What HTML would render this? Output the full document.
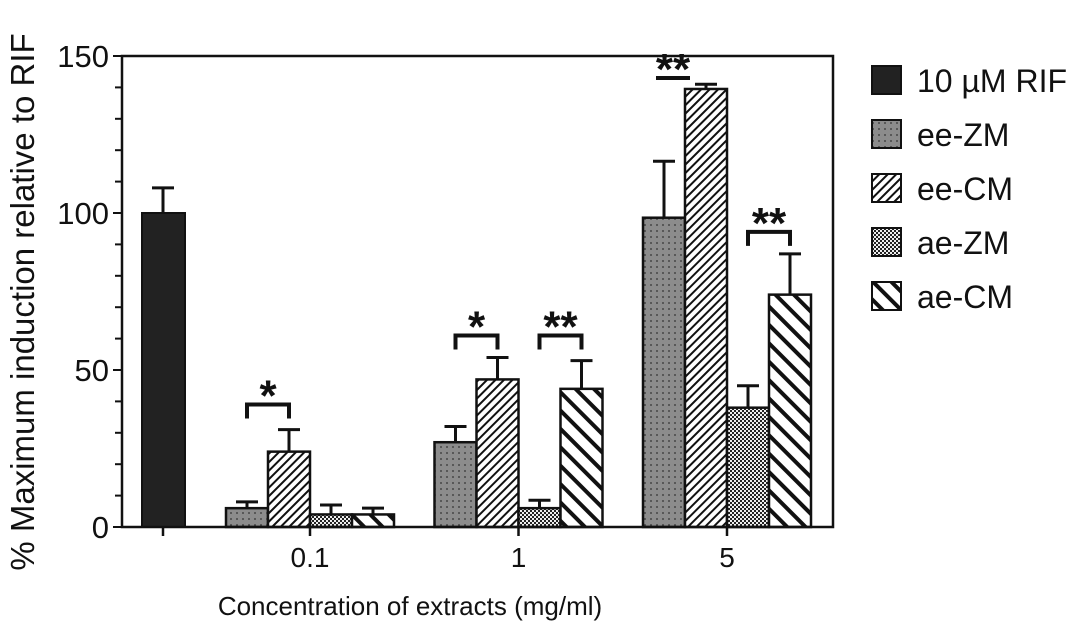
<!DOCTYPE html>
<html><head><meta charset="utf-8"><style>
body{margin:0;background:#fff;}
svg{display:block;font-family:"Liberation Sans",Arial,sans-serif;}
</style></head><body>
<svg id="chart" width="1087" height="643" viewBox="0 0 1087 643" xmlns="http://www.w3.org/2000/svg">
<defs>
<pattern id="pDots" width="6" height="6" patternUnits="userSpaceOnUse"><rect width="6" height="6" fill="#8c8c8c"/><circle cx="3" cy="3" r="0.9" fill="#333"/></pattern>
<pattern id="pFine" width="6" height="6" patternUnits="userSpaceOnUse" patternTransform="rotate(45)"><rect width="6" height="6" fill="#fff"/><rect width="2" height="6" fill="#111"/></pattern>
<pattern id="pCheck" width="4" height="4" patternUnits="userSpaceOnUse"><rect width="4" height="4" fill="#eee"/><rect width="2" height="2" fill="#222"/><rect x="2" y="2" width="2" height="2" fill="#222"/></pattern>
<pattern id="pWide" width="13" height="13" patternUnits="userSpaceOnUse" patternTransform="rotate(-45)"><rect width="13" height="13" fill="#fff"/><rect width="4" height="13" fill="#111"/></pattern>
</defs>
<g id="plot"></g>
<text transform="translate(34,302) rotate(-90)" text-anchor="middle" font-size="33" fill="#111">% Maximum induction relative to RIF</text>
<text x="410" y="615" text-anchor="middle" font-size="26" fill="#111">Concentration of extracts (mg/ml)</text>
</svg>
<script>
const groups = ["0.1", "1", "5"];
const seriesNames = ["ee-ZM", "ee-CM", "ae-ZM", "ae-CM"];
const rifValue = 100;
const rifErr = 108;
const eeZM = [6, 27, 98.5];
const eeCM = [24, 47, 139.5];
const aeZM = [4, 6, 38];
const aeCM = [4, 44, 74];
const eeZMErr = [8, 32, 116.5];
const eeCMErr = [31, 54, 141];
const aeZMErr = [7, 8.5, 45];
const aeCMErr = [6, 53, 87];
const yTicks = [0, 50, 100, 150];
const legendLabels = ["10 µM RIF", "ee-ZM", "ee-CM", "ae-ZM", "ae-CM"];
const sigGroup = [0, 1, 1, 2, 2];
const sigLeft = [0, 0, 2, 0, 2];
const sigSeriesR = [1, 1, 3, 1, 3];
const sigLabel = ["*", "*", "**", "**", "**"];
const sigY = [39, 61, 61, 143, 94];

const NS = "http://www.w3.org/2000/svg";
const g = document.getElementById('plot');
const X0 = 122, X1 = 833, Y0 = 527, Y1 = 56;
const yScale = v => Y0 - (v / 150) * (Y0 - Y1);
const rifCenter = 163;
const groupCenter = i => 310 + i * 208.5;
const BW = 42;
const barLeft = (gi, si) => groupCenter(gi) - 2 * BW + si * BW;
function el(tag, attrs) { const e = document.createElementNS(NS, tag); for (const k in attrs) e.setAttribute(k, attrs[k]); g.appendChild(e); return e; }

const fills = ["url(#pDots)", "url(#pFine)", "url(#pCheck)", "url(#pWide)"];
const vals = [eeZM, eeCM, aeZM, aeCM];
const errs = [eeZMErr, eeCMErr, aeZMErr, aeCMErr];

function errBar(cx, v, e) {
  const l = el('line', {x1: cx, x2: cx, y1: yScale(v), y2: yScale(e), stroke: '#111', 'stroke-width': 3});
  
  
  const c = el('line', {x1: cx - 11, x2: cx + 11, y1: yScale(e), y2: yScale(e), stroke: '#111', 'stroke-width': 3});
  
  
}

const rb = el('rect', {x: rifCenter - 21, y: yScale(rifValue), width: 43, height: Y0 - yScale(rifValue), fill: '#222', stroke: '#111', 'stroke-width': 2});


errBar(rifCenter, rifValue, rifErr);

for (let gi = 0; gi < groups.length; gi++) {
  for (let si = 0; si < 4; si++) {
    const x = barLeft(gi, si), v = vals[si][gi];
    const r = el('rect', {x: x, y: yScale(v), width: BW, height: Y0 - yScale(v), fill: fills[si], stroke: '#111', 'stroke-width': 2.5});
    
    
    errBar(x + BW / 2, v, errs[si][gi]);
  }
  const t = el('line', {x1: groupCenter(gi), x2: groupCenter(gi), y1: Y0, y2: Y0 + 9, stroke: '#111', 'stroke-width': 2.5});
  
  
  const lab = el('text', {x: groupCenter(gi), y: 567, 'text-anchor': 'middle', 'font-size': 28, fill: '#111'});
  lab.textContent = groups[gi];
  
  
}
const rt = el('line', {x1: rifCenter, x2: rifCenter, y1: Y0, y2: Y0 + 9, stroke: '#111', 'stroke-width': 2.5});



const fr = el('rect', {x: X0, y: Y1, width: X1 - X0, height: Y0 - Y1, fill: 'none', stroke: '#111', 'stroke-width': 2.5});


for (let v = 0; v <= 150; v += 10) {
  const major = yTicks.includes(v);
  const t = el('line', {x1: major ? 113 : 115, x2: X0, y1: yScale(v), y2: yScale(v), stroke: '#111', 'stroke-width': 2});
  
  
}
yTicks.forEach(v => {
  const t = el('text', {x: 109, y: yScale(v) + 11, 'text-anchor': 'end', 'font-size': 31, fill: '#111'});
  t.textContent = v;
  
  
});

for (let k = 0; k < sigLabel.length; k++) {
  const xl = barLeft(sigGroup[k], sigLeft[k]) + BW / 2;
  const xr = barLeft(sigGroup[k], sigSeriesR[k]) + BW / 2;
  const y = yScale(sigY[k]);
  const legs = sigY[k] < 140;
  const p = el('path', {d: legs ? `M${xl},${y + 14} V${y} H${xr} V${y + 14}` : `M${xl - 8},${y} H${xr - 16}`, fill: 'none', stroke: '#111', 'stroke-width': 4});
  
  
  const cx = legs ? (xl + xr) / 2 : (xl + xr) / 2 - 12;
  const t = el('text', {x: cx, y: y + 6, 'text-anchor': 'middle', 'font-size': 44, 'font-weight': 'bold', fill: '#111'});
  t.textContent = sigLabel[k];
  
  
}

const legFills = ['#222'].concat(fills);
legendLabels.forEach((lbl, i) => {
  const y = 66 + i * 54;
  const b = el('rect', {x: 872, y: y, width: 29, height: 28, fill: legFills[i], stroke: '#111', 'stroke-width': 2});
  
  
  const t = el('text', {x: 917, y: y + 26, 'font-size': 32, fill: '#111'});
  t.textContent = lbl;
  
  
});
</script>
</body></html>
